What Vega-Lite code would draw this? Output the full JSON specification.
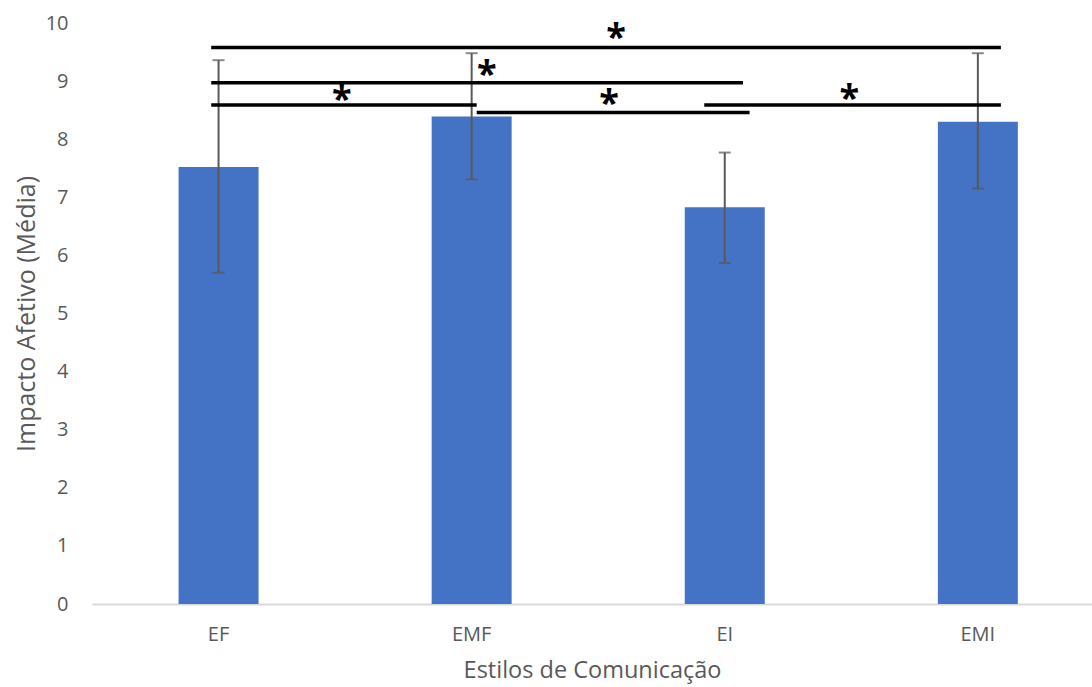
{
  "$schema": "https://vega.github.io/schema/vega-lite/v6.json",
  "width": 1000,
  "height": 581,
  "autosize": {"type": "none"},
  "padding": {"left": 92, "top": 23, "right": 0, "bottom": 83},
  "background": "white",
  "config": {
    "view": {"stroke": null},
    "font": "Open Sans"
  },
  "layer": [
    {
      "data": {
        "values": [
          {"estilo": "EF", "media": 7.52, "inf": 5.70, "sup": 9.36},
          {"estilo": "EMF", "media": 8.39, "inf": 7.31, "sup": 9.48},
          {"estilo": "EI", "media": 6.83, "inf": 5.87, "sup": 7.77},
          {"estilo": "EMI", "media": 8.30, "inf": 7.15, "sup": 9.48}
        ]
      },
      "encoding": {
        "x": {
          "field": "estilo",
          "type": "nominal",
          "sort": null,
          "title": "Estilos de Comunicação",
          "scale": {"paddingInner": 0.684, "paddingOuter": 0.3175, "align": 0.5386},
          "axis": {
            "labelAngle": 0,
            "labelFontSize": 20,
            "labelColor": "#595959",
            "labelPadding": 20,
            "ticks": false,
            "domainColor": "#D9D9D9",
            "domainWidth": 2,
            "titleFontSize": 23.5,
            "titleFontWeight": "normal",
            "titleColor": "#595959",
            "titlePadding": 14
          }
        }
      },
      "layer": [
        {
          "mark": {"type": "bar", "color": "#4472C4"},
          "encoding": {
            "y": {
              "field": "media",
              "type": "quantitative",
              "title": "Impacto Afetivo (Média)",
              "scale": {"domain": [0, 10], "nice": false},
              "axis": {
                "values": [0, 1, 2, 3, 4, 5, 6, 7, 8, 9, 10],
                "format": "d",
                "grid": false,
                "domain": false,
                "ticks": false,
                "labelFontSize": 20,
                "labelColor": "#595959",
                "labelPadding": 24,
                "titleFontSize": 25,
                "titleFontWeight": "normal",
                "titleColor": "#595959",
                "titlePadding": 6
              }
            }
          }
        },
        {
          "mark": {"type": "rule", "color": "#595959", "strokeWidth": 2},
          "encoding": {
            "y": {"field": "inf", "type": "quantitative", "title": "Impacto Afetivo (Média)"},
            "y2": {"field": "sup"}
          }
        },
        {
          "mark": {"type": "tick", "color": "#595959", "thickness": 2, "size": 12},
          "encoding": {
            "y": {"field": "inf", "type": "quantitative", "title": "Impacto Afetivo (Média)"}
          }
        },
        {
          "mark": {"type": "tick", "color": "#595959", "thickness": 2, "size": 12},
          "encoding": {
            "y": {"field": "sup", "type": "quantitative", "title": "Impacto Afetivo (Média)"}
          }
        }
      ]
    },
    {
      "data": {
        "values": [
          {"ini": 0.471, "fim": 3.591, "nivel": 9.58, "ax": 2.071, "ay": 9.55, "sig": "*"},
          {"ini": 0.471, "fim": 2.572, "nivel": 8.97, "ax": 1.560, "ay": 8.91, "sig": "*"},
          {"ini": 0.471, "fim": 1.520, "nivel": 8.59, "ax": 0.987, "ay": 8.49, "sig": "*"},
          {"ini": 1.520, "fim": 2.598, "nivel": 8.46, "ax": 2.043, "ay": 8.41, "sig": "*"},
          {"ini": 2.419, "fim": 3.591, "nivel": 8.59, "ax": 2.992, "ay": 8.51, "sig": "*"}
        ]
      },
      "layer": [
        {
          "mark": {"type": "rule", "color": "black", "strokeWidth": 3.5},
          "encoding": {
            "x": {"field": "ini", "type": "quantitative", "scale": {"domain": [0, 3.951], "nice": false, "zero": false}, "axis": null},
            "x2": {"field": "fim"},
            "y": {"field": "nivel", "type": "quantitative", "title": "Impacto Afetivo (Média)"}
          }
        },
        {
          "mark": {"type": "text", "color": "black", "fontSize": 36, "fontWeight": "bold", "baseline": "alphabetic", "align": "center"},
          "encoding": {
            "x": {"field": "ax", "type": "quantitative", "scale": {"domain": [0, 3.951], "nice": false, "zero": false}, "axis": null},
            "y": {"field": "ay", "type": "quantitative", "title": "Impacto Afetivo (Média)"},
            "text": {"field": "sig"}
          }
        }
      ]
    }
  ],
  "resolve": {"scale": {"x": "independent"}, "axis": {"x": "independent"}}
}
